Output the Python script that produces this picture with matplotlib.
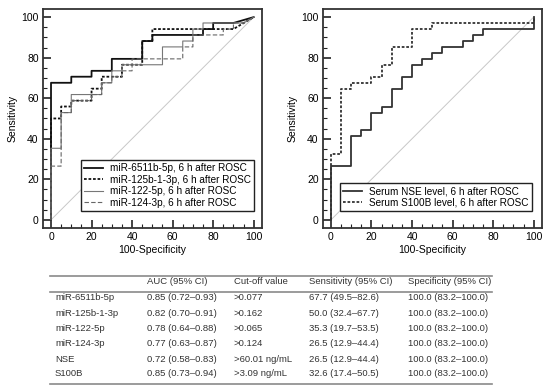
import matplotlib.pyplot as plt
from matplotlib.ticker import MultipleLocator

plt.rcParams['font.family'] = ['Liberation Sans', 'DejaVu Sans']

# ROC steps: (100-specificity, sensitivity) after each vertical jump
mir6511_steps = [(0, 67.6), (10, 70.6), (20, 73.5), (30, 79.4), (45, 88.2), (50, 91.2), (75, 94.1), (80, 97.1)]
mir125_steps = [(0, 50.0), (5, 55.9), (10, 58.8), (20, 64.7), (25, 70.6), (35, 76.5), (45, 88.2), (50, 94.1)]
mir122_steps = [(0, 35.3), (5, 52.9), (10, 61.8), (25, 67.6), (30, 73.5), (35, 76.5), (55, 85.3), (65, 88.2),
                (70, 94.1), (75, 97.1)]
mir124_steps = [(0, 26.5), (5, 52.9), (10, 58.8), (20, 61.8), (25, 67.6), (30, 70.6), (35, 73.5), (40, 79.4),
                (65, 85.3), (70, 91.2), (85, 94.1), (90, 97.1)]
mir_ends = [90, 90, 95, 95]
nse_steps = [(0, 26.5), (10, 41.2), (15, 44.1), (20, 52.9), (25, 55.9), (30, 64.7), (35, 70.6), (40, 76.5),
             (45, 79.4), (50, 82.4), (55, 85.3), (65, 88.2), (70, 91.2), (75, 94.1), (100, 100)]
s100b_steps = [(0, 32.4), (5, 64.7), (10, 67.6), (20, 70.6), (25, 76.5), (30, 85.3), (40, 94.1), (50, 97.1),
               (100, 100)]

mir_labels = ['miR-6511b-5p, 6 h after ROSC', 'miR-125b-1-3p, 6 h after ROSC',
              'miR-122-5p, 6 h after ROSC', 'miR-124-3p, 6 h after ROSC']
serum_labels = ['Serum NSE level, 6 h after ROSC', 'Serum S100B level, 6 h after ROSC']

table_header = ['', 'AUC (95% CI)', 'Cut-off value', 'Sensitivity (95% CI)', 'Specificity (95% CI)']
table_rows = [
    ['miR-6511b-5p', '0.85 (0.72\u20130.93)', '>0.077', '67.7 (49.5\u201382.6)', '100.0 (83.2\u2013100.0)'],
    ['miR-125b-1-3p', '0.82 (0.70\u20130.91)', '>0.162', '50.0 (32.4\u201367.7)', '100.0 (83.2\u2013100.0)'],
    ['miR-122-5p', '0.78 (0.64\u20130.88)', '>0.065', '35.3 (19.7\u201353.5)', '100.0 (83.2\u2013100.0)'],
    ['miR-124-3p', '0.77 (0.63\u20130.87)', '>0.124', '26.5 (12.9\u201344.4)', '100.0 (83.2\u2013100.0)'],
    ['NSE', '0.72 (0.58\u20130.83)', '>60.01 ng/mL', '26.5 (12.9\u201344.4)', '100.0 (83.2\u2013100.0)'],
    ['S100B', '0.85 (0.73\u20130.94)', '>3.09 ng/mL', '32.6 (17.4\u201350.5)', '100.0 (83.2\u2013100.0)'],
]


def roc_xy(steps, end_x=100):
    xs, ys = [0], [0]
    for x, y in steps:
        xs += [x, x]
        ys += [ys[-1], y]
    xs += [end_x, 100]
    ys += [ys[-1], 100]
    return xs, ys


def style_axes(ax):
    ax.set_xlim(-4, 104)
    ax.set_ylim(-4, 104)
    ax.xaxis.set_major_locator(MultipleLocator(20))
    ax.yaxis.set_major_locator(MultipleLocator(20))
    ax.xaxis.set_minor_locator(MultipleLocator(5))
    ax.yaxis.set_minor_locator(MultipleLocator(5))
    ax.tick_params(which='both', direction='in', top=False, right=False, labelsize=7.5, pad=3,
                   color='#222222')
    ax.tick_params(which='major', length=6, width=1.2)
    ax.tick_params(which='minor', length=3, width=0.8)
    for s in ax.spines.values():
        s.set_linewidth(1.3)
        s.set_color('#333333')
    ax.plot([0, 100], [0, 100], color='#c8c8c8', lw=0.7)
    ax.set_xlabel('100-Specificity', fontsize=7.5, labelpad=2)
    ax.set_ylabel('Sensitivity', fontsize=7.5, labelpad=3)


fig = plt.figure(figsize=(5.5, 3.91), dpi=100)
ax1 = fig.add_axes([0.078, 0.417, 0.398, 0.56])
ax2 = fig.add_axes([0.587, 0.417, 0.398, 0.56])
style_axes(ax1)
style_axes(ax2)

mir_steps = [mir6511_steps, mir125_steps, mir122_steps, mir124_steps]
mir_styles = [dict(color='#111111', lw=1.3, ls='-'),
              dict(color='#111111', lw=1.3, ls=(0, (1.5, 1))),
              dict(color='#777777', lw=0.8, ls='-'),
              dict(color='#666666', lw=0.8, ls=(0, (4, 2)))]
for steps, end, st, lab in zip(mir_steps, mir_ends, mir_styles, mir_labels):
    xs, ys = roc_xy(steps, end)
    ax1.plot(xs, ys, label=lab, **st)

serum_styles = [dict(color='#333333', lw=1.3, ls='-'),
                dict(color='#333333', lw=1.3, ls=(0, (1.5, 1)))]
for steps, st, lab in zip([nse_steps, s100b_steps], serum_styles, serum_labels):
    xs, ys = roc_xy(steps)
    ax2.plot(xs, ys, label=lab, **st)

for ax, anchor in [(ax1, (0.963, 0.079)), (ax2, (0.954, 0.079))]:
    leg = ax.legend(loc='lower right', bbox_to_anchor=anchor, fontsize=7.2, fancybox=False,
                    framealpha=1, edgecolor='#222222', handlelength=1.9, borderpad=0.3,
                    labelspacing=0.15, handletextpad=0.7, borderaxespad=0)
    leg.get_frame().set_linewidth(1.0)

# table
col_x = [0.100, 0.267, 0.425, 0.562, 0.742]
header_y = 1 - 282 / 391
row_y = [1 - v / 391 for v in [298, 313, 328.5, 344, 359, 374]]
line_kw = dict(color='#8a8a8a', lw=1.2, transform=fig.transFigure)
fig.add_artist(plt.Line2D([0.091, 0.895], [1 - 276 / 391] * 2, **line_kw))
fig.add_artist(plt.Line2D([0.091, 0.895], [1 - 292 / 391] * 2, **line_kw))
fig.add_artist(plt.Line2D([0.091, 0.895], [1 - 384 / 391] * 2, **line_kw))
for x, h in zip(col_x, table_header):
    fig.text(x, header_y, h, fontsize=6.8, va='center', color='#333333')
for y, row in zip(row_y, table_rows):
    for x, cell in zip(col_x, row):
        fig.text(x, y, cell, fontsize=6.8, va='center', color='#333333')

plt.savefig('out.png', dpi=100)
